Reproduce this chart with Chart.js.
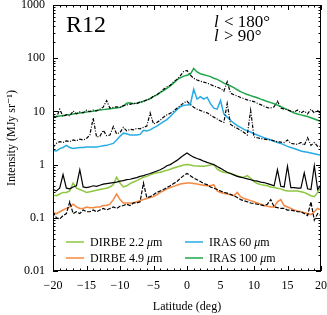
<!DOCTYPE html>
<html>
<head>
<meta charset="utf-8">
<script src="https://cdn.jsdelivr.net/npm/chart.js@4.4.0/dist/chart.umd.min.js"></script>
<style>
  html, body { margin: 0; padding: 0; background: #fff; }
  #wrap { width: 327px; height: 315px; position: relative; }
</style>
</head>
<body>
<div id="wrap"><canvas id="chart"></canvas></div>
<script>
// --- DATA (latitude in deg, intensity in MJy/sr) ---
const latitude = [
  -20, -19.5, -19, -18.5, -18, -17.5, -17, -16.5, -16, -15.5,
  -15, -14.5, -14, -13.5, -13, -12.5, -12, -11.5, -11, -10.5,
  -10, -9.5, -9, -8.5, -8, -7.5, -7, -6.5, -6, -5.5,
  -5, -4.5, -4, -3.5, -3, -2.5, -2, -1.5, -1, -0.5,
  0, 0.5, 1, 1.5, 2, 2.5, 3, 3.5, 4, 4.5,
  5, 5.5, 6, 6.5, 7, 7.5, 8, 8.5, 9, 9.5,
  10, 10.5, 11, 11.5, 12, 12.5, 13, 13.5, 14, 14.5,
  15, 15.5, 16, 16.5, 17, 17.5, 18, 18.5, 19, 19.5, 20
];

const iras100 = [
  8.0, 7.9, 8.2, 8.4, 8.6, 8.7, 8.9, 9.1, 9.3, 9.5,
  9.7, 9.9, 10.1, 10.4, 10.6, 10.8, 11.0, 11.2, 11.4, 11.6,
  11.9, 12.6, 14.2, 14.6, 14.0, 14.3, 14.8, 15.5, 16.3, 17.5,
  19.0, 20.5, 22.5, 24.5, 27, 30, 34, 39, 43, 46,
  48, 50, 64, 55, 51, 49, 47, 45, 42, 40,
  37, 34, 32, 30, 28, 25.5, 23.5, 22, 20.8, 19.8,
  18.9, 18, 17, 16.2, 15.3, 14.6, 13.9, 13.1, 12.3, 11.5,
  10.8, 10.0, 9.3, 8.9, 8.6, 8.3, 8.0, 7.6, 7.2, 6.8, 6.45
];

const model100 = [
  8.3, 7.6, 11.0, 8.0, 8.7, 8.2, 10.2, 9.0, 9.8, 9.4,
  10.5, 9.9, 10.6, 10.2, 11.0, 12.0, 16.0, 11.5, 11.9, 12.2,
  12.0, 12.8, 13.2, 13.6, 14.2, 14.0, 15.0, 15.4, 16.5, 17.0,
  19.5, 20.5, 23, 26, 29, 31, 36, 40, 47, 56,
  59, 48, 42, 39, 37, 35.5, 34, 32, 30, 28.5,
  27, 24, 36, 22, 20.5, 19.5, 18.2, 17.4, 16.5, 15.8,
  15.3, 14.2, 13.4, 12.5, 11.8, 11.6, 12.2, 15.5, 11.6, 11.0,
  10.6, 10.1, 9.8, 10.6, 9.4, 10.2, 9.0, 11.0, 9.4, 10.4, 8.8
];

const iras60 = [
  1.85, 1.8, 2.0, 2.1, 2.3, 2.1, 2.0, 2.05, 2.1, 2.1,
  2.15, 2.15, 2.15, 2.15, 2.2, 2.25, 2.3, 2.4, 2.5, 2.9,
  3.4, 3.9, 3.8, 3.6, 3.6, 3.6, 3.7, 4.4, 4.3, 4.5,
  4.9, 5.3, 5.8, 6.4, 7.0, 8.0, 9.3, 10.8, 12.2, 13.0,
  13.2, 13.5, 26, 17, 19, 17, 18.5, 14, 11.5, 11,
  16, 9, 7.8, 6.8, 6.0, 5.4, 5.0, 4.6, 4.3, 4.1,
  3.8, 3.6, 3.4, 3.2, 3.05, 2.9, 2.75, 2.6, 2.5, 2.35,
  2.2, 2.1, 2.0, 1.9, 1.8, 1.75, 1.7, 1.65, 1.6, 1.55, 1.5
];

const model60 = [
  2.1, 2.5, 2.7, 2.6, 2.8, 2.7, 2.9, 2.8, 3.0, 2.9,
  3.1, 3.6, 7.5, 3.3, 3.4, 4.4, 3.5, 3.6, 5.2, 3.8,
  4.0, 5.0, 4.3, 4.6, 4.5, 4.8, 4.7, 5.0, 5.3, 9.3,
  5.8, 6.2, 6.8, 7.8, 8.6, 9.2, 10.2, 11.5, 12.8, 14.5,
  15.5, 13.5, 12, 11, 10.4, 9.8, 9.4, 8.6, 7.8, 7.2,
  6.6, 6.2, 14, 5.7, 5.2, 4.8, 4.4, 4.0, 3.6, 10.5,
  3.3, 3.2, 3.1, 3.0, 2.95, 2.9, 2.8, 2.7, 2.65, 2.6,
  2.9, 2.5, 2.45, 2.4, 2.6, 2.3, 3.2, 2.3, 2.6, 2.2, 2.2
];

const dirbe22 = [
  0.27, 0.26, 0.28, 0.30, 0.30, 0.32, 0.45, 0.36, 0.34, 0.32,
  0.30, 0.31, 0.32, 0.33, 0.34, 0.35, 0.36, 0.38, 0.42, 0.58,
  0.45, 0.38, 0.40, 0.44, 0.47, 0.50, 0.54, 0.58, 0.60, 0.64,
  0.68, 0.70, 0.72, 0.75, 0.78, 0.82, 0.86, 0.90, 0.94, 0.98,
  1.0, 0.98, 0.95, 0.94, 0.93, 0.93, 0.95, 0.98, 1.0, 0.82,
  0.76, 0.72, 0.70, 0.68, 0.64, 0.62, 0.58, 0.58, 0.62, 0.55,
  0.48, 0.44, 0.42, 0.41, 0.40, 0.38, 0.37, 0.36, 0.35, 0.33,
  0.32, 0.32, 0.32, 0.32, 0.31, 0.30, 0.28, 0.26, 0.25, 0.30, 0.38
];

const model22 = [
  0.34, 0.32, 0.36, 0.65, 0.36, 0.35, 0.38, 0.40, 0.80, 0.38,
  0.37, 0.38, 0.40, 0.39, 0.41, 0.43, 0.44, 0.45, 0.46, 0.47,
  0.49, 0.50, 0.52, 0.53, 0.55, 0.57, 0.60, 0.62, 0.65, 0.68,
  0.72, 0.76, 0.80, 0.86, 0.95, 1.0, 1.1, 1.2, 1.35, 1.5,
  1.65, 1.5, 1.38, 1.3, 1.24, 1.16, 1.1, 1.05, 1.0, 0.92,
  0.85, 0.78, 0.72, 0.68, 0.64, 0.60, 0.58, 0.56, 0.54, 0.52,
  0.50, 0.49, 0.47, 0.46, 0.44, 0.42, 0.40, 0.80, 0.39, 0.38,
  0.93, 0.37, 0.37, 0.36, 0.36, 0.70, 0.35, 0.34, 0.95, 0.34, 0.42
];

const dirbe49 = [
  0.125, 0.12, 0.13, 0.14, 0.15, 0.16, 0.18, 0.16, 0.15, 0.15,
  0.16, 0.155, 0.155, 0.16, 0.16, 0.17, 0.17, 0.18, 0.22, 0.28,
  0.22, 0.19, 0.19, 0.19, 0.19, 0.20, 0.21, 0.22, 0.23, 0.24,
  0.25, 0.27, 0.30, 0.32, 0.35, 0.37, 0.39, 0.41, 0.43, 0.44,
  0.45, 0.45, 0.44, 0.43, 0.42, 0.41, 0.40, 0.40, 0.42, 0.32,
  0.30, 0.29, 0.28, 0.27, 0.26, 0.30, 0.25, 0.23, 0.22, 0.21,
  0.20, 0.19, 0.18, 0.17, 0.165, 0.16, 0.16, 0.20, 0.22, 0.17,
  0.16, 0.15, 0.14, 0.135, 0.13, 0.125, 0.12, 0.115, 0.13, 0.15, 0.14
];

const model49 = [
  0.13, 0.10, 0.095, 0.11, 0.12, 0.20, 0.12, 0.13, 0.12, 0.14,
  0.13, 0.13, 0.14, 0.13, 0.14, 0.15, 0.14, 0.15, 0.16, 0.15,
  0.165, 0.17, 0.18, 0.17, 0.19, 0.19, 0.20, 0.45, 0.24, 0.25,
  0.27, 0.30, 0.32, 0.34, 0.37, 0.40, 0.44, 0.48, 0.55, 0.62,
  0.68, 0.62, 0.56, 0.52, 0.48, 0.44, 0.42, 0.38, 0.36, 0.34,
  0.32, 0.30, 0.29, 0.275, 0.26, 0.24, 0.22, 0.21, 0.20, 0.19,
  0.185, 0.18, 0.175, 0.17, 0.18, 0.22, 0.16, 0.155, 0.15, 0.15,
  0.14, 0.14, 0.135, 0.13, 0.13, 0.12, 0.11, 0.20, 0.09, 0.12, 0.11
];

const yTickValues = [0.01, 0.1, 1, 10, 100, 1000];

const legendItems = [
  { label: 'DIRBE 2.2', color: '#8dc63f' },
  { label: 'DIRBE 4.9', color: '#f7883f' },
  { label: 'IRAS 60', color: '#27abe6' },
  { label: 'IRAS 100', color: '#1fa64a' }
];

const SERIF = "'Liberation Serif', 'DejaVu Serif', serif";

const pts = (vals) => vals.map((v, i) => ({ x: latitude[i], y: v }));

const line = (label, vals, color, dash, width) => ({
  label, data: pts(vals), borderColor: color, borderWidth: width,
  borderDash: dash, pointRadius: 0, tension: 0, fill: false
});

// kill the automatic label-overflow padding so the plot box stays where we want it
const noPad = s => { s.paddingLeft = 0; s.paddingRight = 0; s.paddingTop = 0; s.paddingBottom = 0; };

// --- overlay: frame, inward ticks, labels, legend ---
const overlay = {
  id: 'overlay',
  afterDatasetsDraw(chart) {
    const { ctx, chartArea: a, scales: { x, y } } = chart;
    ctx.save();
    ctx.strokeStyle = '#000';
    ctx.lineWidth = 1;
    ctx.strokeRect(a.left + 0.5, a.top + 0.5, a.right - a.left - 1, a.bottom - a.top - 1);

    ctx.beginPath();
    for (let v = -20; v <= 20; v++) {
      const px = Math.round(x.getPixelForValue(v)) + 0.5;
      const len = v % 5 === 0 ? 5 : 2.5;
      ctx.moveTo(px, a.bottom); ctx.lineTo(px, a.bottom - len);
      ctx.moveTo(px, a.top); ctx.lineTo(px, a.top + len);
    }
    for (let d = -2; d <= 3; d++) {
      for (let m = 1; m <= 9; m++) {
        const v = m * Math.pow(10, d);
        if (v > 1000.0001) break;
        const py = Math.round(y.getPixelForValue(v)) + 0.5;
        const len = m === 1 ? 5 : 2.5;
        ctx.moveTo(a.left, py); ctx.lineTo(a.left + len, py);
        ctx.moveTo(a.right, py); ctx.lineTo(a.right - len, py);
      }
    }
    ctx.stroke();

    ctx.fillStyle = '#000';
    ctx.textBaseline = 'alphabetic';
    ctx.textAlign = 'left';

    // region name
    ctx.font = `24px ${SERIF}`;
    ctx.fillText('R12', 66, 32);

    // longitude range
    const lonText = (yy, rest) => {
      ctx.font = `italic 17px ${SERIF}`;
      ctx.fillText('l', 214, yy);
      const w = ctx.measureText('l').width;
      ctx.font = `17px ${SERIF}`;
      ctx.fillText(rest, 214 + w + 1, yy);
    };
    lonText(27, ' < 180°');
    lonText(41, ' > 90°');

    // legend
    const fs = 12;
    legendItems.forEach((it, i) => {
      const col = Math.floor(i / 2), row = i % 2;
      const lx = col === 0 ? 66 : 185;
      const ly = row === 0 ? 242 : 258;
      ctx.strokeStyle = it.color;
      ctx.lineWidth = 1.5;
      ctx.setLineDash([]);
      ctx.beginPath();
      ctx.moveTo(lx, ly); ctx.lineTo(lx + 18, ly);
      ctx.stroke();
      let tx = lx + 24;
      const by = ly + 4;
      ctx.font = `${fs}px ${SERIF}`;
      ctx.fillText(it.label + ' ', tx, by);
      tx += ctx.measureText(it.label + ' ').width;
      ctx.font = `italic ${fs}px ${SERIF}`;
      ctx.fillText('μ', tx, by);
      tx += ctx.measureText('μ').width;
      ctx.font = `${fs}px ${SERIF}`;
      ctx.fillText('m', tx, by);
    });
    ctx.restore();
  }
};

new Chart(document.getElementById('chart').getContext('2d'), {
  type: 'line',
  data: {
    datasets: [
      line('Model 2.2', model22, '#000', [], 1.2),
      line('Model 4.9', model49, '#000', [4, 1.5], 1.2),
      line('Model 60', model60, '#000', [3.5, 1.5, 1, 1.5], 1.2),
      line('Model 100', model100, '#000', [3.5, 1.5, 1, 1.5], 1.2),
      line('DIRBE 2.2 μm', dirbe22, legendItems[0].color, [], 1.5),
      line('DIRBE 4.9 μm', dirbe49, legendItems[1].color, [], 1.5),
      line('IRAS 60 μm', iras60, legendItems[2].color, [], 1.5),
      line('IRAS 100 μm', iras100, legendItems[3].color, [], 1.5)
    ]
  },
  options: {
    responsive: true,
    maintainAspectRatio: false,
    animation: false,
    layout: { padding: { top: 5, right: 6, left: 0, bottom: 0 } },
    plugins: { legend: { display: false }, tooltip: { enabled: false } },
    scales: {
      x: {
        type: 'linear', min: -20, max: 20,
        afterFit: s => { s.height = 44; noPad(s); },
        grid: { display: false, drawTicks: false },
        border: { display: false },
        ticks: {
          stepSize: 5, padding: 8, color: '#000',
          font: { family: SERIF, size: 12 },
          callback: v => String(v).replace('-', '\u2212')
        },
        title: {
          display: true, text: 'Latitude (deg)', color: '#000',
          font: { family: SERIF, size: 12 }, padding: { top: 4, bottom: 1 }
        }
      },
      y: {
        type: 'logarithmic', min: 0.01, max: 1000,
        afterFit: s => { s.width = 53; noPad(s); },
        afterBuildTicks: s => { s.ticks = yTickValues.map(v => ({ value: v })); },
        grid: { display: false, drawTicks: false },
        border: { display: false },
        ticks: {
          padding: 8, color: '#000',
          font: { family: SERIF, size: 12 },
          callback: v => String(v)
        },
        title: {
          display: true, text: 'Intensity (MJy sr\u207B\u00B9)', color: '#000',
          font: { family: SERIF, size: 12 }, padding: { top: 5, bottom: 2 }
        }
      }
    }
  },
  plugins: [overlay]
});
</script>
</body>
</html>
